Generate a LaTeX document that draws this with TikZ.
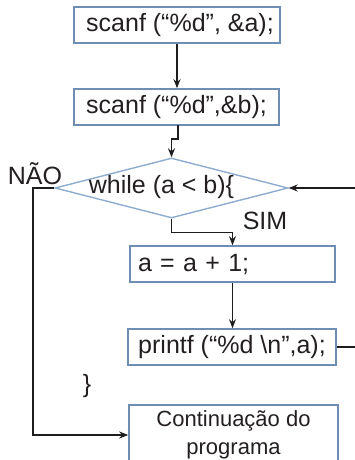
\documentclass[tikz,border=0pt]{standalone}
\usepackage{fontspec}
\setmainfont{Liberation Sans}
\usetikzlibrary{shapes.geometric,arrows.meta}
\definecolor{boxcol}{RGB}{112,142,180}
\definecolor{diacol}{RGB}{142,172,206}
\definecolor{txtcol}{RGB}{35,31,32}
\definecolor{lncol}{RGB}{30,28,28}
\tikzset{
  procbox/.style={draw=boxcol, line width=1.6pt, inner xsep=2pt, inner ysep=0pt,
    minimum height=36pt, align=center, text=txtcol},
  decbox/.style={diamond, draw=diacol, line width=1.4pt, inner sep=0pt,
    minimum width=233pt, minimum height=60pt},
  lbl/.style={text=txtcol, inner sep=0pt},
  conn/.style={draw=lncol, line width=1.5pt, -{Stealth[length=9pt,width=7pt]}},
  plain/.style={draw=lncol, line width=1.5pt}
}
\begin{document}
\begin{tikzpicture}[x=1pt,y=-1pt,font=\fontsize{25}{28}\selectfont]
\useasboundingbox (0,0) rectangle (354,460);
\node[procbox, minimum width=206pt] (b1) at (177,25) {\hspace*{6pt}scanf (“\%d”, \&a);};
\node[procbox, minimum width=205pt] (b2) at (176.5,107) {scanf (“\%d”,\&b);};
\node[decbox] (dia) at (171.5,188) {};
\node[lbl] (wt) at (161.5,187) {while (a < b)\{};
\node[procbox, inner xsep=8pt, text width=189pt, align=left] (b3) at (232.5,264) {a = a + 1;};
\node[procbox, minimum width=208pt] (b4) at (232,347) {printf (“\%d \textbackslash n”,a);};
\node[procbox, minimum width=209pt, minimum height=60pt, font=\fontsize{22}{28}\selectfont] (b5) at (233.5,435) {Continuação do\\programa};
\node[lbl] (nao) at (35,174) {NÃO};
\node[lbl] (sim) at (265,221) {SIM};
\node[lbl] (brace) at (87,386) {\}};
\coordinate (b2out) at (178,125);
\coordinate (loopa) at (375,347);
\coordinate (loopb) at (375,188);
\coordinate (left) at (33,188);
% connectors
\draw[conn] (b1.south) -- (b1.south |- b2.north);
\draw[conn] (b2out) -- ++(0,14) -| (dia.north);
\draw[conn] (dia.south) -- ++(0,14) -| (b3.north);
\draw[conn] (b3.south) -- (b3.south |- b4.north);
\draw[conn] (b4.east) -- (loopa) -- (loopb) -- (dia.east);
\draw[conn] (dia.west) -- (left) |- (b5.west);
\end{tikzpicture}
\end{document}
